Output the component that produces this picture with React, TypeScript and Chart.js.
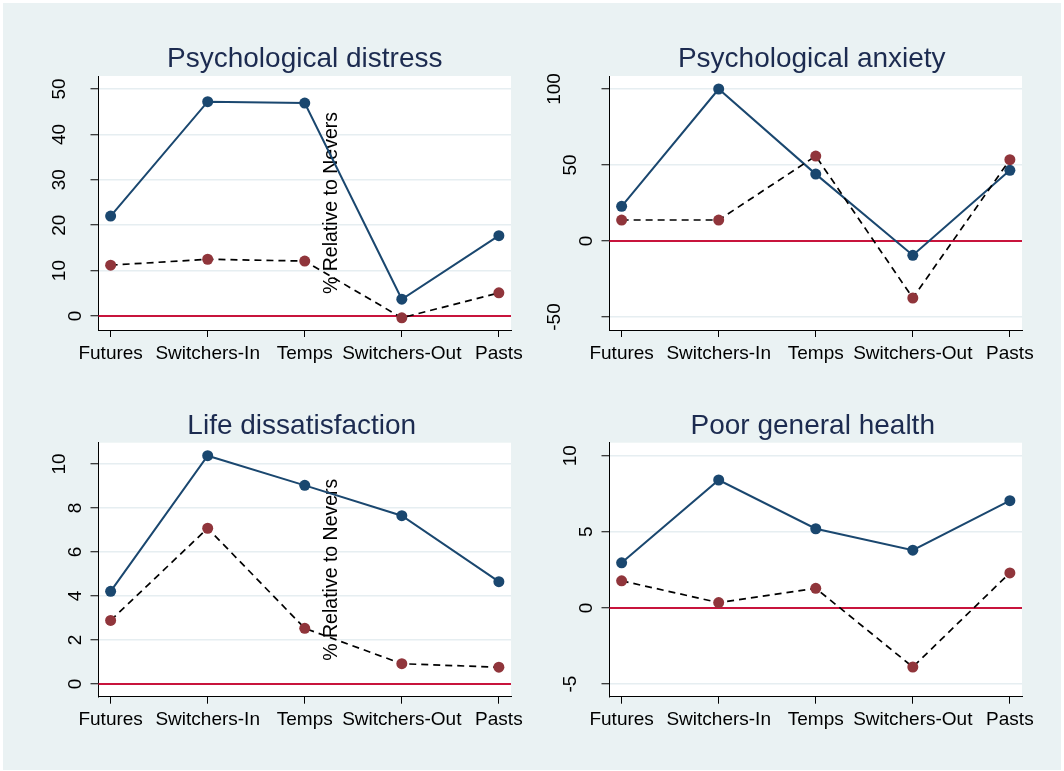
import React, { useEffect, useRef } from 'react';
import { Chart, registerables } from 'chart.js';

Chart.register(...registerables);

const FONT = '"Liberation Sans", Arial, Helvetica, sans-serif';

// ---- data ----
const categories = ['Futures', 'Switchers-In', 'Temps', 'Switchers-Out', 'Pasts'];

const distressTotal = [22.0, 47.2, 46.9, 3.7, 17.7];
const distressAdjusted = [11.2, 12.5, 12.1, -0.4, 5.1];
const distressTicks = [0, 10, 20, 30, 40, 50];

const anxietyTotal = [22.8, 100, 44.0, -9.4, 46.5];
const anxietyAdjusted = [13.8, 13.8, 55.9, -37.5, 53.5];
const anxietyTicks = [-50, 0, 50, 100];

const lifeTotal = [4.21, 10.38, 9.03, 7.65, 4.65];
const lifeAdjusted = [2.89, 7.08, 2.53, 0.92, 0.76];
const lifeTicks = [0, 2, 4, 6, 8, 10];

const healthTotal = [2.96, 8.4, 5.2, 3.79, 7.04];
const healthAdjusted = [1.78, 0.35, 1.29, -3.88, 2.3];
const healthTicks = [-5, 0, 5, 10];

const yAxisTitle = '% Relative to Nevers';

// ---- panel layout ----
type Spec = {
  title: string;
  titleDx: number;
  total: number[];
  adjusted: number[];
  yTicks: number[];
  yMin: number;
  yMax: number;
  showYTitle: boolean;
  left: number;
  top: number;
  width: number;
  height: number;
  padding: { left: number; top: number; right: number; bottom: number };
};

const X_AXIS_H = 45;

const panels: Spec[] = [
  {
    title: 'Psychological distress', titleDx: 0, total: distressTotal, adjusted: distressAdjusted, yTicks: distressTicks,
    yMin: -3.08, yMax: 52.86, showYTitle: true,
    left: 0, top: 0, width: 532, height: 385,
    padding: { left: 98.5, top: 76, right: 21, bottom: 55 - X_AXIS_H },
  },
  {
    title: 'Psychological anxiety', titleDx: -4, total: anxietyTotal, adjusted: anxietyAdjusted, yTicks: anxietyTicks,
    yMin: -58.55, yMax: 108.55, showYTitle: false,
    left: 532, top: 0, width: 532, height: 385,
    padding: { left: 77.5, top: 76, right: 42, bottom: 55 - X_AXIS_H },
  },
  {
    title: 'Life dissatisfaction', titleDx: -3, total: lifeTotal, adjusted: lifeAdjusted, yTicks: lifeTicks,
    yMin: -0.58, yMax: 10.97, showYTitle: true,
    left: 0, top: 385, width: 532, height: 386,
    padding: { left: 98.5, top: 57.7, right: 21, bottom: 74.3 - X_AXIS_H },
  },
  {
    title: 'Poor general health', titleDx: -3, total: healthTotal, adjusted: healthAdjusted, yTicks: healthTicks,
    yMin: -5.83, yMax: 10.85, showYTitle: false,
    left: 532, top: 385, width: 532, height: 386,
    padding: { left: 77.5, top: 57.7, right: 42, bottom: 74.3 - X_AXIS_H },
  },
];

function makeDecor(spec: Spec) {
  return {
    id: 'decor',
    beforeDraw(chart: any) {
      const { ctx, chartArea: a } = chart;
      ctx.save();
      ctx.fillStyle = '#ffffff';
      ctx.fillRect(a.left, a.top, a.right - a.left, a.bottom - a.top);
      ctx.restore();
    },
    beforeDatasetsDraw(chart: any) {
      const { ctx, chartArea: a } = chart;
      const ys = chart.scales.y;
      ctx.save();
      if (spec.showYTitle) {
        ctx.font = `19.5px ${FONT}`;
        ctx.fillStyle = '#000000';
        ctx.translate(336.7, (a.top + a.bottom) / 2);
        ctx.rotate(-Math.PI / 2);
        ctx.textAlign = 'center';
        ctx.textBaseline = 'alphabetic';
        ctx.fillText(yAxisTitle, 0, 0);
      }
      ctx.restore();
      ctx.save();
      const y0 = ys.getPixelForValue(0);
      ctx.strokeStyle = '#C8143C';
      ctx.lineWidth = 2;
      ctx.beginPath();
      ctx.moveTo(a.left, y0);
      ctx.lineTo(a.right, y0);
      ctx.stroke();
      ctx.restore();
    },
    afterDraw(chart: any) {
      const { ctx, chartArea: a } = chart;
      const ys = chart.scales.y;
      ctx.save();
      ctx.font = `28px ${FONT}`;
      ctx.fillStyle = '#1C2B50';
      ctx.textAlign = 'center';
      ctx.textBaseline = 'alphabetic';
      ctx.fillText(spec.title, (a.left + a.right) / 2 + spec.titleDx, a.top - 9);
      ctx.restore();

      ctx.save();
      ctx.font = `19px ${FONT}`;
      ctx.fillStyle = '#000000';
      ctx.textAlign = 'center';
      ctx.textBaseline = 'middle';
      for (const t of ys.ticks) {
        const label = String(t.value);
        const n = label.length;
        const x = a.left - (7 + 15.8 * n);
        const y = ys.getPixelForValue(t.value);
        ctx.save();
        ctx.translate(x, y);
        ctx.rotate(-Math.PI / 2);
        ctx.fillText(label, 0, 0);
        ctx.restore();
      }
      ctx.restore();
    },
  };
}

function Panel({ spec }: { spec: Spec }) {
  const ref = useRef<HTMLCanvasElement | null>(null);
  useEffect(() => {
    if (!ref.current) return;
    const chart = new Chart(ref.current, {
      type: 'line',
      data: {
        datasets: [
          {
            label: 'Total',
            data: spec.total.map((v, i) => ({ x: i, y: v })),
            borderColor: '#1A476F',
            backgroundColor: '#1A476F',
            borderWidth: 2,
            pointRadius: 5.5,
            pointBackgroundColor: '#1A476F',
            pointBorderWidth: 0,
            order: 2,
          },
          {
            label: 'Adjusted',
            data: spec.adjusted.map((v, i) => ({ x: i, y: v })),
            borderColor: '#000000',
            backgroundColor: '#90353B',
            borderWidth: 1.7,
            borderDash: [7, 5],
            pointRadius: 5.5,
            pointBackgroundColor: '#90353B',
            pointBorderWidth: 0,
            order: 1,
          },
        ],
      },
      options: {
        responsive: false,
        animation: false,
        devicePixelRatio: 1,
        clip: false as any,
        layout: { padding: spec.padding },
        plugins: { legend: { display: false }, tooltip: { enabled: false }, title: { display: false } },
        scales: {
          x: {
            type: 'linear',
            min: -0.125,
            max: 4.125,
            afterBuildTicks: (s: any) => {
              s.ticks = categories.map((_, i) => ({ value: i }));
            },
            afterFit: (s: any) => {
              s.height = X_AXIS_H;
            },
            ticks: {
              autoSkip: false,
              maxRotation: 0,
              minRotation: 0,
              padding: 5,
              color: '#000000',
              font: { family: FONT, size: 19 },
              callback: (v: any) => categories[Number(v)] ?? '',
            },
            grid: { drawOnChartArea: false, drawTicks: true, tickLength: 7, tickColor: '#000000', tickWidth: 1 },
            border: { display: true, color: '#000000', width: 1 },
          },
          y: {
            type: 'linear',
            min: spec.yMin,
            max: spec.yMax,
            afterBuildTicks: (s: any) => {
              s.ticks = spec.yTicks.map((v) => ({ value: v }));
            },
            afterFit: (s: any) => {
              s.width = 0;
            },
            ticks: { display: false },
            grid: {
              color: '#E6EEF1',
              lineWidth: 1.5,
              drawTicks: true,
              tickLength: 8,
              tickColor: '#000000',
              tickWidth: 1,
            },
            border: { display: true, color: '#000000', width: 1 },
          },
        },
      },
      plugins: [makeDecor(spec)],
    });
    return () => chart.destroy();
  }, [spec]);
  return (
    <canvas
      ref={ref}
      width={spec.width}
      height={spec.height}
      style={{ position: 'absolute', left: spec.left, top: spec.top, width: spec.width, height: spec.height }}
    />
  );
}

export default function App() {
  useEffect(() => {
    document.body.style.margin = '0';
  }, []);
  return (
    <div style={{ position: 'relative', width: 1064, height: 771, background: '#ffffff', overflow: 'hidden' }}>
      <div style={{ position: 'absolute', left: 3, top: 3, width: 1058, height: 767, background: '#EAF2F3' }} />
      {panels.map((p) => (
        <Panel key={p.title} spec={p} />
      ))}
    </div>
  );
}
